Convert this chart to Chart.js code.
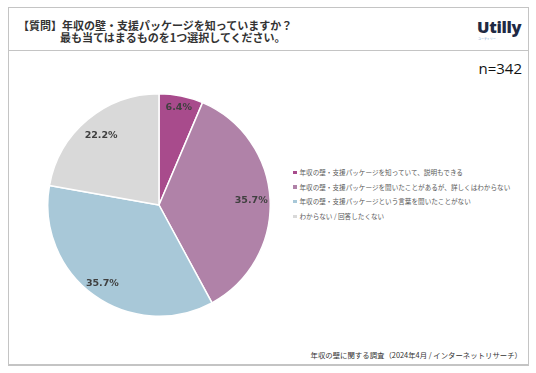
<!DOCTYPE html>
<html lang="ja">
<head>
<meta charset="utf-8">
<script src="https://cdn.jsdelivr.net/npm/chart.js@4"></script>
<style>
  html, body { margin: 0; padding: 0; background: #fff; }
  body { width: 536px; height: 373px; position: relative; overflow: hidden;
         font-family: "Noto Sans CJK JP", "Noto Sans", sans-serif; }
  #frame { position: absolute; left: 8px; top: 7px; width: 519px; height: 356px;
           border: 1.5px solid #c4c4c4; border-bottom-width: 2px; }
  #head { position: absolute; left: 8px; top: 50px; width: 521px; height: 0;
          border-top: 1.5px solid #c4c4c4; }
  .q { position: absolute; font-weight: bold; font-size: 11px; color: #333;
       white-space: nowrap; line-height: 12px; }
  #logo { position: absolute; left: 477px; top: 15px; font-family: "Open Sans", sans-serif;
          font-weight: 800; font-size: 16.5px; color: #1f2a44; letter-spacing: -0.3px; }
  #tag { position: absolute; left: 478px; top: 37px; font-size: 3px; color: #6a9bd0; }
  #n { position: absolute; right: 14px; top: 58px; font-family: "Open Sans", sans-serif;
       font-size: 15px; color: #111; }
  #pie { position: absolute; left: 47px; top: 93px; }
  #legend { position: absolute; left: 293px; top: 166px; font-size: 6.6px; color: #595959; }
  #legend div { height: 14.7px; line-height: 12px; white-space: nowrap; }
  #legend span { display: inline-block; width: 3.5px; height: 3.5px; margin-right: 3px;
                 vertical-align: 1px; }
  #src { position: absolute; right: 14px; top: 349px; font-size: 7.4px; color: #333;
         white-space: nowrap; }
</style>
</head>
<body>
<div id="frame"></div>
<div id="head"></div>
<div class="q" style="left:18px; top:19px;">【質問】年収の壁・支援パッケージを知っていますか？</div>
<div class="q" style="left:60px; top:31px;">最も当てはまるものを1つ選択してください。</div>
<div id="logo">Utilly</div>
<div id="tag">ユーティリー</div>
<div id="n">n=342</div>
<canvas id="pie" width="224" height="224"></canvas>
<div id="legend"></div>
<div id="src">年収の壁に関する調査（2024年4月 / インターネットリサーチ）</div>
<script>
const categories = [
  "年収の壁・支援パッケージを知っていて、説明もできる",
  "年収の壁・支援パッケージを聞いたことがあるが、詳しくはわからない",
  "年収の壁・支援パッケージという言葉を聞いたことがない",
  "わからない / 回答したくない"
];
const shares = [6.4, 35.7, 35.7, 22.2];
const sliceColors = ["#a84b8c", "#b082a8", "#a8c8d8", "#d9d9d9"];

// legend as html text
const legend = document.getElementById("legend");
categories.forEach((c, i) => {
  const row = document.createElement("div");
  row.innerHTML = '<span style="background:' + sliceColors[i] + '"></span>' + c;
  legend.appendChild(row);
});

// percent labels inside slices (label distance from centre, as share of radius)
const labelDist = [0.89, 0.83, 0.87, 0.81];
const sliceLabels = {
  id: "sliceLabels",
  afterDatasetsDraw(chart) {
    const ctx = chart.ctx;
    const meta = chart.getDatasetMeta(0);
    ctx.save();
    ctx.font = "bold 9.5px 'DejaVu Sans', sans-serif";
    ctx.fillStyle = "#404040";
    ctx.textAlign = "center";
    ctx.textBaseline = "middle";
    meta.data.forEach((arc, i) => {
      const p = arc.getProps(["x", "y", "startAngle", "endAngle", "outerRadius"], true);
      const mid = (p.startAngle + p.endAngle) / 2;
      const r = p.outerRadius * labelDist[i];
      ctx.fillText(shares[i].toFixed(1) + "%", p.x + Math.cos(mid) * r, p.y + Math.sin(mid) * r);
    });
    ctx.restore();
  }
};

new Chart(document.getElementById("pie"), {
  type: "pie",
  data: {
    labels: categories,
    datasets: [{
      data: shares,
      backgroundColor: sliceColors,
      borderColor: "#ffffff",
      borderWidth: 1.5
    }]
  },
  options: {
    responsive: false,
    animation: false,
    devicePixelRatio: 1,
    layout: { padding: 0 },
    plugins: { legend: { display: false }, tooltip: { enabled: false } }
  },
  plugins: [sliceLabels]
});
</script>
</body>
</html>
